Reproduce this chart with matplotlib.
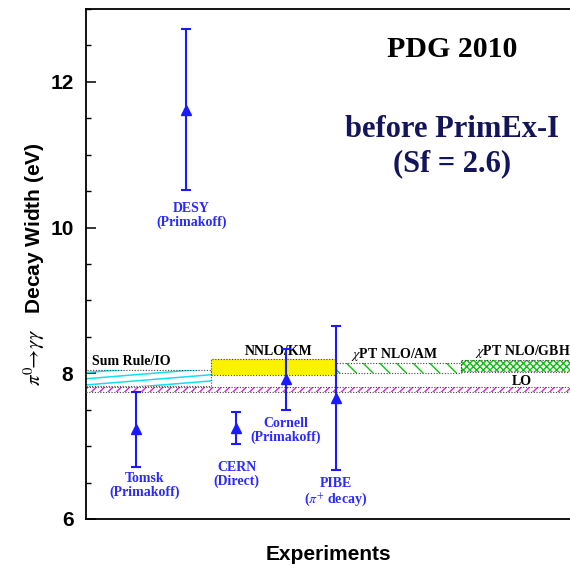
import matplotlib

matplotlib.use("Agg")
import matplotlib.pyplot as plt
from matplotlib.patches import Rectangle
from matplotlib.ticker import MultipleLocator, NullLocator

# measurements (eV)
EXPERIMENTS = ["Tomsk", "DESY", "CERN", "Cornell", "PIBE"]
EXP_SUB = ["(Primakoff)", "(Primakoff)", "(Direct)", "(Primakoff)",
           r"($\pi^{+}$ decay)"]
EXP_X = [0.4, 0.8, 1.2, 1.6, 2.0]
EXP_WIDTH = [7.23, 11.62, 7.25, 7.92, 7.66]
EXP_ERROR = [0.51, 1.10, 0.22, 0.42, 0.99]

# theory bands (eV)
BANDS = ["Sum Rule/IO", "NNLO/KM", r"$\chi$PT NLO/AM", r"$\chi$PT NLO/GBH"]
BAND_LOW = [7.82, 7.98, 8.00, 8.02]
BAND_HIGH = [8.05, 8.20, 8.14, 8.18]
LO_LOW = 7.75
LO_HIGH = 7.81

SERIF = "Liberation Serif"
SANS = "Liberation Sans"
BLUE = "#1a1aff"


def _outline(ax, x0, w, lo, hi):
    """
    Dotted grey frame round a band.
    """
    ax.add_patch(Rectangle((x0, lo), w, hi - lo, facecolor="none",
                           edgecolor="#444444", linestyle=(0, (1, 1.5)),
                           linewidth=0.8, zorder=3))


def _draw_bands(ax):
    """
    Theory predictions as filled / hatched bands.
    """
    # LO line, full width
    ax.add_patch(Rectangle((0, LO_LOW), 5, LO_HIGH - LO_LOW,
                           facecolor="white", edgecolor="#e020e0",
                           hatch="////", linewidth=0, zorder=2))
    _outline(ax, 0, 5, LO_LOW, LO_HIGH)

    # sum rule: sparse shallow cyan lines clipped to the band
    lo, hi = BAND_LOW[0], BAND_HIGH[0]
    clip = Rectangle((0, lo), 1, hi - lo, facecolor="none",
                     edgecolor="none", transform=ax.transData)
    ax.add_patch(clip)
    step = 0.085
    for k in range(-4, 5):
        y0 = lo + 0.02 + k * step
        ln, = ax.plot([0, 1], [y0, y0 + 0.14], color="#10e0f0",
                      linewidth=1.1, zorder=2)
        ln.set_clip_path(clip)
    _outline(ax, 0, 1, lo, hi)

    # NNLO/KM yellow
    ax.add_patch(Rectangle((1, BAND_LOW[1]), 1, BAND_HIGH[1] - BAND_LOW[1],
                           facecolor="#fbf200", edgecolor="none", zorder=2))
    _outline(ax, 1, 1, BAND_LOW[1], BAND_HIGH[1])

    # NLO/AM green diagonal
    ax.add_patch(Rectangle((2, BAND_LOW[2]), 1, BAND_HIGH[2] - BAND_LOW[2],
                           facecolor="white", edgecolor="#10c010",
                           hatch="\\\\", linewidth=0, zorder=2))
    _outline(ax, 2, 1, BAND_LOW[2], BAND_HIGH[2])

    # NLO/GBH green cross
    ax.add_patch(Rectangle((3, BAND_LOW[3]), 2, BAND_HIGH[3] - BAND_LOW[3],
                           facecolor="white", edgecolor="#10c010",
                           hatch="xxxxx", linewidth=0, zorder=2))
    _outline(ax, 3, 2, BAND_LOW[3], BAND_HIGH[3])

    kw = dict(family=SERIF, fontweight="bold", fontsize=10, color="black",
              va="center", zorder=5)
    ax.text(0.046, 8.16, BANDS[0], ha="left", **kw)
    ax.text(1.54, 8.296, BANDS[1], ha="center", **kw)
    ax.text(2.47, 8.26, BANDS[2], ha="center", **kw)
    ax.text(3.115, 8.296, BANDS[3], ha="left", **kw)
    ax.text(3.49, 7.884, "LO", ha="center", **kw)


def _draw_points(ax):
    """
    Experimental results with error bars and labels.
    """
    ax.errorbar(EXP_X, EXP_WIDTH, yerr=EXP_ERROR, fmt="^", color=BLUE,
                markersize=6.5, elinewidth=1.5, capsize=3.6, capthick=1.5,
                zorder=6)
    label_pos = [(0.472, 6.456), (0.844, 10.172), (1.204, 6.615),
                 (1.596, 7.211), (1.996, 6.364)]
    for name, sub, (lx, ly) in zip(EXPERIMENTS, EXP_SUB, label_pos):
        ax.text(lx, ly, f"{name}\n{sub}", ha="center", va="center",
                family=SERIF, fontweight="bold", fontsize=10,
                color="#2a2aff", linespacing=1.05, zorder=7)


def main() -> None:
    """
    Build the figure and save it.
    """
    plt.rcParams["mathtext.fontset"] = "stix"
    fig = plt.figure(figsize=(5.7, 5.66), dpi=100)
    ax = fig.add_axes([86 / 570, 47 / 566, 484 / 570, 510 / 566])
    ax.set_xlim(0, 3.872)
    ax.set_ylim(6, 13)

    _draw_bands(ax)
    _draw_points(ax)

    ax.spines["right"].set_visible(False)
    for s in ("left", "top", "bottom"):
        ax.spines[s].set_linewidth(1.3)
    ax.xaxis.set_major_locator(NullLocator())
    ax.yaxis.set_major_locator(MultipleLocator(2))
    ax.yaxis.set_minor_locator(MultipleLocator(0.5))
    ax.tick_params(axis="y", which="major", direction="in", length=7,
                   width=1.1, pad=9)
    ax.tick_params(axis="y", which="minor", direction="in", length=3.6,
                   width=1.0)
    for lab in ax.get_yticklabels():
        lab.set_family(SANS)
        lab.set_fontweight("bold")
        lab.set_fontsize(15)

    ax.set_ylabel(r"$\pi^{0}\!\!\rightarrow\!\gamma\gamma$   Decay Width (eV)",
                  family=SANS, fontweight="bold", fontsize=15, labelpad=2)
    ax.set_xlabel("Experiments", family=SANS, fontweight="bold",
                  fontsize=15, labelpad=19)

    ax.text(2.928, 12.45, "PDG 2010", ha="center", va="center",
            family=SERIF, fontweight="bold", fontsize=21.5, color="black")
    ax.text(2.928, 11.35, "before PrimEx-I", ha="center", va="center",
            family=SERIF, fontweight="bold", fontsize=22, color="#14145a")
    ax.text(2.928, 10.88, "(Sf = 2.6)", ha="center", va="center",
            family=SERIF, fontweight="bold", fontsize=22, color="#14145a")

    fig.savefig("out.png", dpi=100)


if __name__ == "__main__":
    main()
